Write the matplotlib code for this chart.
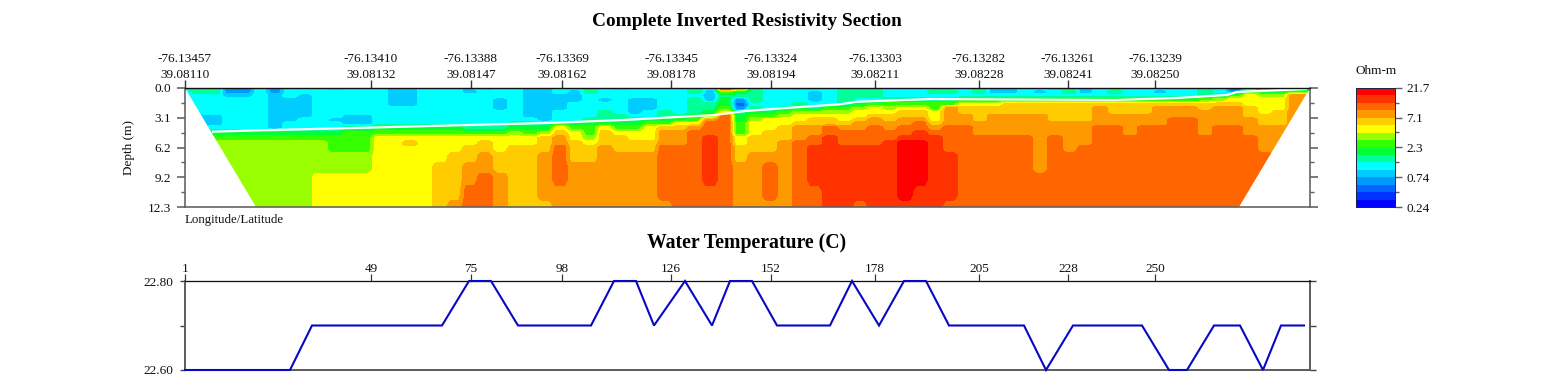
import numpy as np
import matplotlib
matplotlib.use("Agg")
import matplotlib.pyplot as plt
from matplotlib.colors import ListedColormap, BoundaryNorm
from matplotlib.patches import Polygon

plt.rcParams['font.family'] = ['Liberation Serif', 'DejaVu Serif']

W, H = 1541, 380

# ---- data ----
lon_labels = ["-76.13457", "-76.13410", "-76.13388", "-76.13369", "-76.13345", "-76.13324", "-76.13303", "-76.13282", "-76.13261", "-76.13239"]
lat_labels = ["39.08110", "39.08132", "39.08147", "39.08162", "39.08178", "39.08194", "39.08211", "39.08228", "39.08241", "39.08250"]
station_labels = ["1", "49", "75", "98", "126", "152", "178", "205", "228", "250"]
tick_pos = [0, 186, 286, 377, 486, 586, 690, 794, 883, 970]

depth_ticks = [0.0, 3.1, 6.2, 9.2, 12.3]
depth_minor = [1.55, 4.65, 7.7, 10.75]
cb_ticks = [21.7, 7.1, 2.3, 0.74, 0.24]
cb_colors = ["#0000ff", "#0033ff", "#0066ff", "#0099ff", "#00ccff", "#00ffff", "#00ff99", "#00ff33",
             "#33ff00", "#99ff00", "#ffff00", "#ffcc00", "#ff9900", "#ff6600", "#ff3300", "#ff0000"]

temp_x = [0, 105, 127, 257, 284, 306, 333, 406, 429, 451, 469, 500, 527, 545, 567, 592, 645, 667, 694, 719, 741, 764, 839, 861, 888, 957, 984, 1002, 1029, 1055, 1078, 1096, 1119]
temp_c = [22.6, 22.6, 22.7, 22.7, 22.8, 22.8, 22.7, 22.7, 22.8, 22.8, 22.7, 22.8, 22.7, 22.8, 22.8, 22.7, 22.7, 22.8, 22.7, 22.8, 22.8, 22.7, 22.7, 22.6, 22.7, 22.7, 22.6, 22.6, 22.7, 22.7, 22.6, 22.7, 22.7]

bed_x = [27, 65, 190, 370, 437, 530, 560, 605, 655, 672, 745, 930, 992, 1042, 1052, 1122]
bed_depth = [4.52, 4.4, 4.08, 3.59, 3.31, 2.79, 2.38, 2.04, 1.68, 1.42, 1.14, 1.24, 1.03, 0.72, 0.41, 0.10]

section_depth = [0.0, 0.4, 0.8, 1.2, 1.7, 2.1, 2.5, 2.9, 3.3, 3.7, 4.1, 4.7, 5.2, 5.7, 6.2, 7.2, 8.3, 9.3, 10.9, 12.3]
section_x = list(range(0, 1126, 15))

# colour-bar band seen at each depth, one list per surveyed column
col_0000 = [6,5,5,5,5,5,5,4,4,5,5,6,8,9,9,9,9,9,9,9]
col_0015 = [6,6,5,5,5,5,5,4,4,4,5,6,8,9,9,9,9,9,9,9]
col_0030 = [6,6,5,5,5,5,5,4,4,4,5,7,8,9,9,9,9,9,9,9]
col_0045 = [3,3,4,5,5,5,5,5,5,5,5,7,8,9,9,9,9,9,9,9]
col_0060 = [2,3,4,5,5,5,5,5,5,5,5,7,8,9,9,9,9,9,9,9]
col_0075 = [5,5,5,5,5,5,5,5,5,5,5,7,8,9,9,9,9,9,9,9]
col_0090 = [3,3,4,4,4,4,4,4,4,4,4,7,8,9,9,9,9,9,9,9]
col_0105 = [5,5,5,4,4,4,4,4,4,5,5,7,8,9,9,9,9,9,9,9]
col_0120 = [5,5,4,4,4,4,4,4,5,5,5,7,8,9,9,9,9,9,9,9]
col_0135 = [5,5,5,5,5,5,5,5,5,5,5,7,8,9,9,9,9,10,10,10]
col_0150 = [6,5,5,5,5,5,5,5,4,5,5,7,8,8,8,9,9,10,10,10]
col_0165 = [5,5,5,5,5,5,5,4,4,4,6,8,8,8,8,9,9,10,10,10]
col_0180 = [5,5,5,5,5,5,5,4,4,4,6,8,8,8,8,9,9,10,10,10]
col_0195 = [5,5,5,5,5,5,5,5,5,5,7,8,10,10,10,10,10,10,10,10]
col_0210 = [4,4,4,4,4,5,5,5,5,5,7,8,10,10,10,10,10,10,10,10]
col_0225 = [4,4,4,4,4,5,5,5,5,5,7,8,10,11,10,10,10,10,10,10]
col_0240 = [5,5,5,5,5,5,5,5,5,5,7,8,10,10,10,10,10,10,10,10]
col_0255 = [5,5,5,5,5,5,5,5,5,5,7,8,10,10,10,10,11,11,11,11]
col_0270 = [5,5,5,5,5,5,5,5,5,5,7,8,10,10,10,11,11,11,11,12]
col_0285 = [4,4,5,5,5,5,5,5,5,5,6,8,10,10,11,11,12,12,13,13]
col_0300 = [6,5,5,5,5,5,5,5,5,5,6,8,10,11,11,12,12,13,13,13]
col_0315 = [5,5,5,4,4,4,5,5,5,5,6,8,10,10,10,11,11,12,12,12]
col_0330 = [5,5,5,5,5,5,5,5,5,6,7,9,10,10,11,11,11,11,11,11]
col_0345 = [4,4,4,4,4,4,4,4,5,6,7,8,10,10,11,11,11,11,11,11]
col_0360 = [4,4,4,4,4,4,4,4,4,6,7,9,11,11,11,12,12,12,12,11]
col_0375 = [5,5,4,4,4,4,5,5,5,7,10,11,12,12,13,13,13,13,12,12]
col_0390 = [5,4,4,4,5,5,5,5,5,7,8,10,10,11,11,11,12,12,12,12]
col_0405 = [6,6,5,5,5,5,5,5,6,7,8,8,9,10,11,11,12,12,12,12]
col_0420 = [5,5,5,4,5,5,6,6,6,7,10,11,11,11,12,12,12,12,12,12]
col_0435 = [6,5,5,5,5,5,5,6,6,7,8,10,11,11,11,12,12,12,12,12]
col_0450 = [5,5,5,4,4,4,4,5,6,7,8,10,10,11,11,12,12,12,12,12]
col_0465 = [5,5,5,4,4,4,5,5,7,8,10,10,10,11,11,12,12,12,12,12]
col_0480 = [5,5,5,5,5,5,6,6,7,8,11,12,12,12,13,13,13,13,13,12]
col_0495 = [5,5,5,5,5,5,5,6,7,10,11,12,12,12,13,13,13,13,13,13]
col_0510 = [6,6,5,6,6,6,6,7,8,10,12,13,13,13,13,13,13,13,13,13]
col_0525 = [5,4,4,4,6,6,7,8,12,13,13,13,14,14,14,14,14,14,13,13]
col_0540 = [14,8,6,7,7,8,10,13,13,13,13,13,13,13,13,13,13,13,13,13]
col_0555 = [12,7,6,3,2,3,6,7,7,8,8,8,10,10,11,11,12,12,12,12]
col_0570 = [6,6,6,6,5,6,7,8,9,10,10,10,11,11,11,12,12,12,12,12]
col_0585 = [5,5,5,5,5,5,7,8,10,10,10,11,11,11,11,12,13,13,13,12]
col_0600 = [5,5,5,5,5,6,8,9,10,10,11,11,11,12,12,12,12,12,12,12]
col_0615 = [6,5,5,5,6,7,9,10,10,11,12,12,12,13,13,13,13,13,13,13]
col_0630 = [6,4,4,4,5,6,9,10,11,11,12,12,13,13,14,14,14,14,13,13]
col_0645 = [5,5,5,5,5,8,9,10,11,11,13,13,14,14,14,14,14,14,14,14]
col_0660 = [6,6,6,6,6,8,9,10,10,11,12,13,13,13,14,14,14,14,14,14]
col_0675 = [6,6,6,5,7,9,10,10,11,12,12,13,13,13,14,14,14,14,14,13]
col_0690 = [6,6,6,5,8,10,10,11,12,12,13,13,13,13,14,14,14,14,14,14]
col_0705 = [5,5,5,6,8,9,10,11,11,12,12,13,13,14,14,14,14,14,14,14]
col_0720 = [5,5,5,6,8,10,11,11,12,12,13,13,14,15,15,15,15,15,15,14]
col_0735 = [5,5,5,6,8,10,11,11,12,13,13,14,14,15,15,15,15,15,14,14]
col_0750 = [5,6,5,6,8,8,10,10,10,11,12,13,14,14,14,14,14,14,14,14]
col_0765 = [5,6,5,6,8,12,12,12,12,12,13,13,13,13,13,14,14,14,14,13]
col_0780 = [5,5,5,7,10,11,11,12,12,12,13,13,13,13,13,13,13,13,13,13]
col_0795 = [6,6,5,7,10,11,11,11,11,12,12,12,13,13,13,13,13,13,13,13]
col_0810 = [4,4,5,7,10,11,11,12,12,12,12,12,13,13,13,13,13,13,13,13]
col_0825 = [4,4,5,7,11,11,11,12,12,12,12,12,13,13,13,13,13,13,13,13]
col_0840 = [5,5,5,7,11,11,11,12,12,12,12,12,13,13,13,13,13,13,13,13]
col_0855 = [5,4,5,7,11,11,11,12,12,12,12,12,12,12,12,12,12,13,13,13]
col_0870 = [6,5,5,7,11,11,11,11,11,12,12,12,13,13,13,13,13,13,13,13]
col_0885 = [5,6,5,7,11,11,11,11,11,12,12,12,12,12,12,13,13,13,13,13]
col_0900 = [4,4,5,7,11,11,11,11,11,12,12,12,12,12,13,13,13,13,13,13]
col_0915 = [5,5,5,7,11,12,12,12,12,12,13,13,13,13,13,13,13,13,13,13]
col_0930 = [5,6,5,7,11,11,11,12,12,12,13,13,13,13,13,13,13,13,13,13]
col_0945 = [5,5,5,7,11,11,11,12,12,12,12,12,13,13,13,13,13,13,13,13]
col_0960 = [5,5,5,7,11,11,11,12,12,12,13,13,13,13,13,13,13,13,13,13]
col_0975 = [5,4,5,7,11,12,12,12,12,12,13,13,13,13,13,13,13,13,13,13]
col_0990 = [5,5,5,7,11,12,12,12,13,13,13,13,13,13,13,13,13,13,13,13]
col_1005 = [5,5,5,7,11,12,12,12,13,13,13,13,13,13,13,13,13,13,13,13]
col_1020 = [6,6,6,8,11,11,12,12,12,12,12,12,13,13,13,13,13,13,13,13]
col_1035 = [5,5,6,9,11,12,12,12,12,12,13,13,13,13,13,13,13,13,13,13]
col_1050 = [1,3,8,10,11,12,12,12,12,12,13,13,13,13,13,13,13,13,13,13]
col_1065 = [1,8,10,10,10,11,11,11,12,12,12,12,13,13,13,13,13,13,13,13]
col_1080 = [1,7,9,10,10,10,10,11,11,11,12,12,12,12,12,13,13,13,13,13]
col_1095 = [1,7,9,10,10,10,11,11,11,11,12,12,12,12,12,12,12,13,13,13]
col_1110 = [1,8,12,12,12,12,12,12,12,12,12,12,12,12,12,12,12,12,12,12]
col_1125 = [0,8,12,12,12,12,12,12,12,12,12,12,12,12,12,12,12,12,12,12]

section_outline_x = [0, 1125, 1054, 71]
section_outline_depth = [0.0, 0.0, 12.3, 12.3]

# ---- drawing ----
INK = "#111111"
GREY = "#5f5f5f"
px = 0.72  # points per pixel at dpi 100


def rect(l, t, r, b):
    return [l / W, 1 - b / H, (r - l) / W, (b - t) / H]


def steep(a, axis, width, factor=8):
    """Resample along an axis so band edges are steep, as in the gridded source image."""
    n = a.shape[axis]
    pos = np.linspace(0, n - 1, (n - 1) * factor + 1)
    i = np.minimum(pos.astype(int), n - 2)
    t = np.clip((pos - i - 0.5) / width + 0.5, 0, 1)
    lo = np.take(a, i, axis=axis)
    hi = np.take(a, i + 1, axis=axis)
    shape = [1, 1]
    shape[axis] = -1
    t = t.reshape(shape)
    return lo * (1 - t) + hi * t, pos


fig = plt.figure(figsize=(W / 100, H / 100), dpi=100)
FS = 9.5

# resistivity section
ax = fig.add_axes(rect(185, 88, 1310, 207))
bands = np.array([v for k, v in sorted(globals().items()) if k.startswith("col_")], dtype=float).T
edges = 0.24 * (21.7 / 0.24) ** (np.arange(17) / 16)
log_res = np.log(edges[0]) + (bands + 0.5) * (np.log(edges[-1]) - np.log(edges[0])) / 16
fine, xpos = steep(log_res, 1, 0.5)
fine, ypos = steep(fine, 0, 0.8)
fine_x = np.interp(xpos, np.arange(len(section_x)), section_x)
fine_y = np.interp(ypos, np.arange(len(section_depth)), section_depth)
cmap = ListedColormap(cb_colors)
cs = ax.contourf(fine_x, fine_y, fine, levels=np.log(edges), cmap=cmap, extend="neither")
cs.set_clip_path(Polygon(np.column_stack([section_outline_x, section_outline_depth]), transform=ax.transData))
ax.plot(bed_x, bed_depth, color="white", lw=1.6, solid_capstyle="butt")
ax.set_xlim(0, 1125)
ax.set_ylim(12.3, 0)
ax.xaxis.tick_top()
ax.set_xticks(tick_pos)
ax.set_xticklabels([f"{a}\n{b}" for a, b in zip(lon_labels, lat_labels)], fontsize=FS, linespacing=1.45, color=INK)
ax.tick_params(axis="x", length=8 * px, width=1.4 * px, color="#333333", pad=-0.8)
ax.set_yticks(depth_ticks)
ax.set_yticklabels([f"{d:.1f}" for d in depth_ticks], fontsize=FS, color=INK)
ax.set_yticks(depth_minor, minor=True)
ax.yaxis.set_ticks_position("both")
ax.tick_params(axis="y", which="major", length=8 * px, width=1.6 * px, color=GREY, pad=4.2, labelright=False)
ax.tick_params(axis="y", which="minor", length=4 * px, width=1.4 * px, color=GREY)
ax.tick_params(axis="y", which="both", direction="out")
for s in ["left", "right", "bottom"]:
    ax.spines[s].set_color(GREY)
    ax.spines[s].set_linewidth(1.6 * px)
ax.spines["top"].set_color("#111111")
ax.spines["top"].set_linewidth(1.4 * px)
ax.spines["top"].set_linestyle((0, (2.6, 1.0)))
ax.set_ylabel("Depth (m)", fontsize=FS, color=INK, labelpad=9.5)
fig.text(185 / W, 1 - 219.5 / H, "Longitude/Latitude", fontsize=9.3, color=INK, ha="left", va="center")
fig.text(747 / W, 1 - 22 / H, "Complete Inverted Resistivity Section", fontsize=13.85, fontweight="bold", ha="center", va="center", color="black")

# colour bar
cb = fig.add_axes(rect(1356, 88, 1395, 207))
cb.pcolormesh([0, 1], edges, np.arange(16).reshape(-1, 1), cmap=cmap, norm=BoundaryNorm(np.arange(-0.5, 16.5), 16))
cb.set_yscale("log")
cb.set_ylim(edges[0], edges[-1])
cb.set_xticks([])
cb.yaxis.tick_right()
cb.set_yticks(cb_ticks)
cb.set_yticklabels([f"{v:g}" for v in cb_ticks], fontsize=FS, color=INK)
cb.set_yticks([np.sqrt(a * b) for a, b in zip(cb_ticks[:-1], cb_ticks[1:])], minor=True)
cb.set_yticklabels([], minor=True)
cb.tick_params(axis="y", which="major", length=7 * px, width=1.4 * px, color=GREY, pad=3)
cb.tick_params(axis="y", which="minor", length=4 * px, width=1.4 * px, color=GREY)
for s in cb.spines.values():
    s.set_color("#222244")
    s.set_linewidth(1 * px)
fig.text(1356 / W, 1 - 71 / H, "Ohm-m", fontsize=FS, color=INK, ha="left", va="center")

# water temperature
at = fig.add_axes(rect(185, 281, 1310, 370))
at.plot(temp_x, temp_c, color="#0808c4", lw=1.5, clip_on=False, solid_joinstyle="miter", zorder=5)
at.set_xlim(0, 1125)
at.set_ylim(22.6, 22.8)
at.xaxis.tick_top()
at.set_xticks(tick_pos)
at.set_xticklabels(station_labels, fontsize=FS, color=INK)
at.tick_params(axis="x", length=7 * px, width=1.2 * px, color="#333333", pad=-1)
at.set_yticks([22.6, 22.7, 22.8])
at.set_yticklabels(["22.60", "", "22.80"], fontsize=FS, color=INK)
at.yaxis.set_ticks_position("both")
at.tick_params(axis="y", length=5.5 * px, width=1.4 * px, color="#444444", pad=4.5, labelright=False)
at.spines["top"].set_color("#111111")
at.spines["top"].set_linewidth(1.3 * px)
for s in ["left", "right", "bottom"]:
    at.spines[s].set_color(GREY)
    at.spines[s].set_linewidth(2 * px)
fig.text(747 / W, 1 - 243 / H, "Water Temperature (C)", fontsize=14.2, fontweight="bold", ha="center", va="center", color="black")

fig.savefig("out.png", dpi=100)
